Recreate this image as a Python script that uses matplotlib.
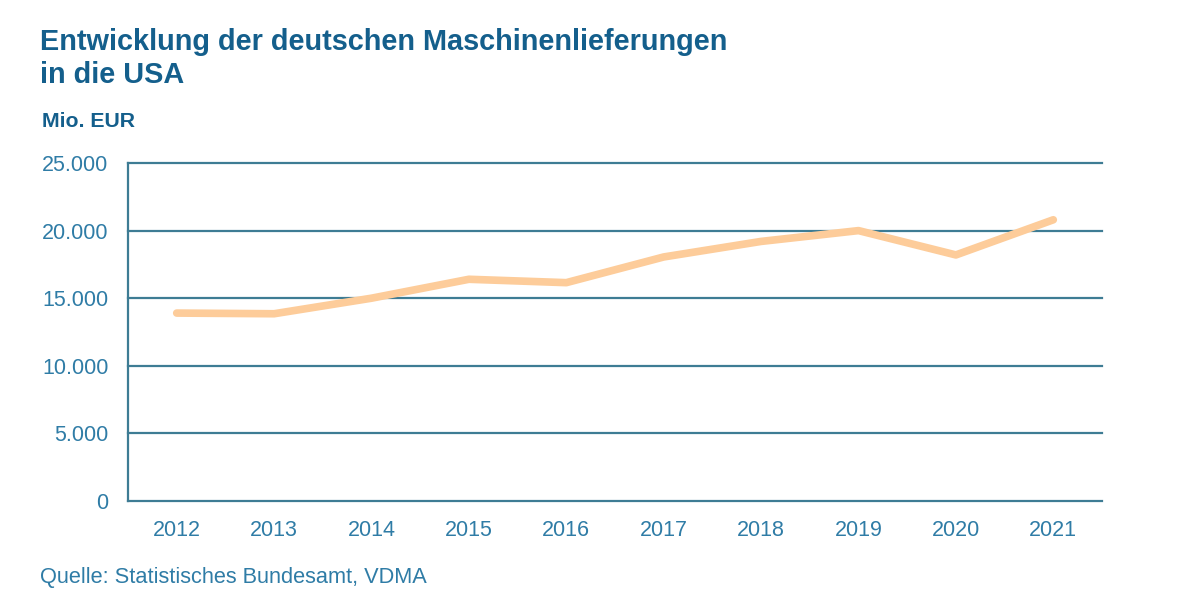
import matplotlib.pyplot as plt
from matplotlib.ticker import FuncFormatter

# Deutsche Maschinenlieferungen in die USA, Mio. EUR
years = ["2012", "2013", "2014", "2015", "2016", "2017", "2018", "2019", "2020", "2021"]
values = [13900, 13850, 15000, 16400, 16150, 18050, 19200, 20000, 18200, 20800]
y_ticks = [0, 5000, 10000, 15000, 20000, 25000]

title_lines = ["Entwicklung der deutschen Maschinenlieferungen", "in die USA"]

title_color = "#145f8c"
tick_color = "#2f7ca6"
grid_color = "#3e7c94"
line_color = "#fdcc9a"

plt.rcParams["font.family"] = ["Liberation Sans", "DejaVu Sans"]

fig = plt.figure(figsize=(12, 6), dpi=100)
ax = fig.add_axes([128 / 1200, 1 - 501 / 600, 974 / 1200, 338 / 600])

x = range(len(years))
ax.plot(x, values, color=line_color, linewidth=5.5, solid_capstyle="round",
        solid_joinstyle="round", zorder=3)

ax.set_xlim(-0.5, len(years) - 0.5)
ax.set_ylim(0, 25000)
ax.set_xticks(list(x))
ax.set_xticklabels(years)
ax.set_yticks(y_ticks)
ax.yaxis.set_major_formatter(FuncFormatter(lambda v, p: f"{int(v):,}".replace(",", ".")))

# horizontal grid lines (not clipped, so the top one is full width)
for yv in y_ticks[1:]:
    ax.axhline(yv, color=grid_color, linewidth=1.6, zorder=1, clip_on=False)

for s in ["top", "right"]:
    ax.spines[s].set_visible(False)
ax.spines["left"].set_color(grid_color)
ax.spines["bottom"].set_color(grid_color)
ax.spines["left"].set_linewidth(1.6)
ax.spines["bottom"].set_linewidth(1.6)

ax.tick_params(length=0, labelsize=15.5, colors=tick_color)
ax.tick_params(axis="x", pad=14)
ax.tick_params(axis="y", pad=14)

# title, two lines placed by baseline
fig.text(40 / 1200, 1 - 50 / 600, title_lines[0], fontsize=20.8, fontweight="bold",
         color=title_color, va="baseline")
fig.text(40 / 1200, 1 - 83 / 600, title_lines[1], fontsize=20.8, fontweight="bold",
         color=title_color, va="baseline")
fig.text(42 / 1200, 1 - 127 / 600, "Mio. EUR", fontsize=15.3, fontweight="bold",
         color=title_color, va="baseline")
fig.text(40 / 1200, 1 - 583 / 600, "Quelle: Statistisches Bundesamt, VDMA",
         fontsize=15.7, color=tick_color, va="baseline")

fig.savefig("out.png", dpi=100)
